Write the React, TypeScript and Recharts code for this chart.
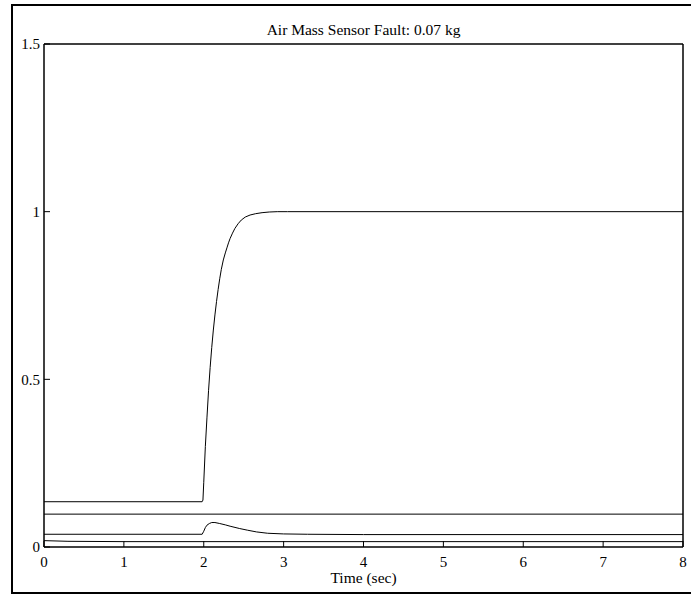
import { Line, LineChart, XAxis, YAxis } from "recharts";

// tick positions
const timeTicks = [0, 1, 2, 3, 4, 5, 6, 7, 8];
const valueTicks = [0, 0.5, 1, 1.5];

// upper trace: steps up to 1 just before t = 2
const stepTime = [0, 1.98, 1.99, 2.0, 2.02, 2.04, 2.06, 2.08, 2.1, 2.12, 2.14, 2.16, 2.18, 2.2, 2.22, 2.245, 2.27, 2.29, 2.31, 2.33, 2.36, 2.39, 2.43, 2.47, 2.52, 2.58, 2.65, 2.73, 2.82, 2.92, 3.05, 8];
const stepValue = [0.135, 0.135, 0.14, 0.193, 0.3, 0.385, 0.466, 0.535, 0.595, 0.647, 0.692, 0.732, 0.768, 0.8, 0.828, 0.856, 0.877, 0.892, 0.907, 0.92, 0.936, 0.95, 0.964, 0.975, 0.984, 0.99, 0.994, 0.997, 0.999, 1.0, 1.0, 1.0];

// flat trace near 0.1
const flatTime = [0, 8];
const flatValue = [0.098, 0.098];

// small bump at t = 2
const bumpTime = [0, 1.98, 2.0, 2.02, 2.04, 2.07, 2.1, 2.14, 2.2, 2.27, 2.33, 2.45, 2.55, 2.66, 2.8, 3.0, 3.3, 4, 8];
const bumpValue = [0.038, 0.038, 0.047, 0.058, 0.065, 0.07, 0.073, 0.073, 0.07, 0.066, 0.062, 0.055, 0.05, 0.045, 0.041, 0.039, 0.038, 0.037, 0.037];

// lowest trace
const lowTime = [0, 0.3, 1, 8];
const lowValue = [0.019, 0.017, 0.016, 0.016];

const toPoints = (t: number[], v: number[]) => t.map((x, i) => ({ t: x, v: v[i] }));

const font = "'Liberation Serif', 'Times New Roman', serif";
const tickStyle = { fill: "#000", fontSize: 15, fontFamily: font };

export default function App() {
  return (
    <div style={{ position: "absolute", left: 0, top: 0, width: 691, height: 595, background: "#fff" }}>
      <div
        style={{
          position: "absolute",
          left: 11,
          top: 4,
          width: 678,
          height: 586,
          borderLeft: "2px solid #000",
          borderTop: "2px solid #000",
          borderBottom: "2px solid #000",
        }}
      />
      <div
        style={{
          position: "absolute",
          left: 44,
          width: 639,
          top: 21,
          textAlign: "center",
          fontFamily: font,
          fontSize: 15.5,
          lineHeight: "18px",
          color: "#000",
        }}
      >
        Air Mass Sensor Fault: 0.07 kg
      </div>
      <LineChart
        width={691}
        height={595}
        margin={{ top: 0, right: 0, bottom: 0, left: 0 }}
        style={{ position: "absolute", left: 0, top: 0 }}
      >
        <XAxis
          dataKey="t"
          type="number"
          domain={[0, 8]}
          ticks={timeTicks}
          height={48}
          tick={tickStyle}
          tickSize={-6}
          tickMargin={15}
          axisLine={{ stroke: "#000", strokeWidth: 1.5 }}
          tickLine={{ stroke: "#000" }}
          allowDataOverflow
          label={{ value: "Time (sec)", position: "insideBottom", offset: 12, fill: "#000", fontSize: 15.5, fontFamily: font }}
        />
        <XAxis
          xAxisId="top"
          orientation="top"
          type="number"
          domain={[0, 8]}
          ticks={timeTicks}
          height={44}
          tick={false}
          tickSize={-6}
          axisLine={{ stroke: "#000", strokeWidth: 1.5 }}
          tickLine={{ stroke: "#000" }}
        />
        <YAxis
          type="number"
          domain={[0, 1.5]}
          ticks={valueTicks}
          width={44}
          tick={tickStyle}
          tickSize={-6}
          tickMargin={10}
          axisLine={{ stroke: "#000", strokeWidth: 1.5 }}
          tickLine={{ stroke: "#000" }}
          allowDataOverflow
        />
        <YAxis
          yAxisId="right"
          orientation="right"
          type="number"
          domain={[0, 1.5]}
          width={8}
          tick={false}
          tickLine={false}
          axisLine={{ stroke: "#000", strokeWidth: 1.5 }}
        />
        <Line data={toPoints(stepTime, stepValue)} dataKey="v" type="linear" stroke="#000" strokeWidth={1} dot={false} isAnimationActive={false} />
        <Line data={toPoints(flatTime, flatValue)} dataKey="v" type="linear" stroke="#000" strokeWidth={1} dot={false} isAnimationActive={false} />
        <Line data={toPoints(bumpTime, bumpValue)} dataKey="v" type="linear" stroke="#000" strokeWidth={1} dot={false} isAnimationActive={false} />
        <Line data={toPoints(lowTime, lowValue)} dataKey="v" type="linear" stroke="#000" strokeWidth={1} dot={false} isAnimationActive={false} />
      </LineChart>
    </div>
  );
}
